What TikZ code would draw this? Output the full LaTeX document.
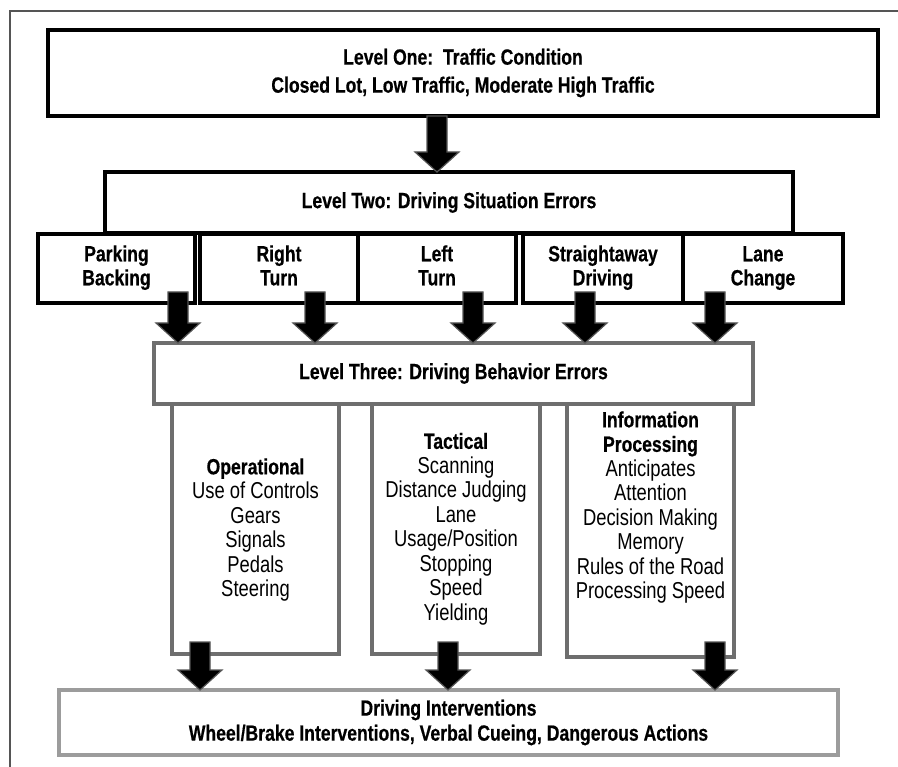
\documentclass[tikz,border=0pt]{standalone}
\usepackage{fontspec}
\setmainfont{Liberation Sans}[FakeStretch=0.8, BoldFeatures={FakeBold=0.5}]
\usetikzlibrary{calc}
\definecolor{boxgray}{HTML}{6E6E6E}
\definecolor{intgray}{HTML}{9C9C9C}
\definecolor{arrowgray}{HTML}{555555}
\tikzset{
	blackbox/.style={draw=black, line width=4.5pt, fill=white, inner sep=0pt, outer sep=0pt, align=center, font=\bfseries\fontsize{22}{24}\selectfont},
	graybox/.style={blackbox, draw=boxgray},
	colbox/.style={draw=boxgray, line width=4pt, fill=white, inner sep=0pt, outer sep=0pt},
	coltext/.style={align=center, inner sep=0pt, font=\fontsize{23}{24.5}\selectfont},
	fatarrow/.style={fill=black, draw=arrowgray, line width=1.2pt, line join=miter},
}
\newcommand{\hd}[1]{{\fontsize{22}{24.5}\selectfont\bfseries #1}}
\newcommand{\fatarrow}[4]{%
	\filldraw[fatarrow] let \p1=(#2.south), \p2=(#3.north) in
		(#1pt-10pt,\y1+#4pt) -- (#1pt+10pt,\y1+#4pt) -- (#1pt+10pt,\y2+20pt) -- (#1pt+22pt,\y2+20pt)
		-- (#1pt,\y2) -- (#1pt-22pt,\y2+20pt) -- (#1pt-10pt,\y2+20pt) -- cycle;}

\begin{document}
\begin{tikzpicture}[x=1pt, y=-1pt]
	\useasboundingbox (0,0) rectangle (898,767);
	\draw[arrowgray, line width=1.5pt] (10,767) -- (10,11) -- (898,11);

	\node[blackbox, minimum width=830, minimum height=86, font=\bfseries\fontsize{22}{28}\selectfont] (lvone) at (463,73)
		{Level One:\ \ Traffic Condition\\Closed Lot, Low Traffic, Moderate High Traffic};

	\node[blackbox, minimum width=688, minimum height=61] (lvtwo) at (449,202.5) {Level Two: Driving Situation Errors};
	\node[blackbox, minimum width=157, minimum height=69] (park) at (116.5,268.5) {\strut Parking\\Backing\strut};
	\node[blackbox, minimum width=158, minimum height=69] (rturn) at (279,268.5) {\strut Right\\Turn\strut};
	\node[blackbox, minimum width=158, minimum height=69] (lturn) at (437,268.5) {\strut Left\\Turn\strut};
	\node[blackbox, minimum width=160, minimum height=69] (straight) at (603,268.5) {\strut Straightaway\\Driving\strut};
	\node[blackbox, minimum width=160, minimum height=69] (lane) at (763,268.5) {\strut Lane\\Change\strut};

	\node[colbox, minimum width=167, minimum height=250] (oper) at (255.5,529) {};
	\node[colbox, minimum width=168, minimum height=250] (tact) at (456,529) {};
	\node[colbox, minimum width=167, minimum height=253] (info) at (650.5,530.5) {};
	\node[graybox, minimum width=599, minimum height=61] (lvthree) at (453.5,373.5) {Level Three: Driving Behavior Errors};

	\node[coltext] (opertxt) at (255.5,530)
		{\hd{Operational}\\Use of Controls\\Gears\\Signals\\Pedals\\Steering};
	\node[coltext] (tacttxt) at (456,529)
		{\hd{Tactical}\\Scanning\\Distance Judging\\Lane\\Usage/Position\\Stopping\\Speed\\Yielding};
	\node[coltext] (infotxt) at (650.5,507.5)
		{\hd{Information}\\\hd{Processing}\\Anticipates\\Attention\\Decision Making\\Memory\\Rules of the Road\\Processing Speed};

	\node[blackbox, draw=intgray, minimum width=779, minimum height=65, font=\bfseries\fontsize{22}{25}\selectfont] (interv) at (448.5,722.5)
		{Driving Interventions\\Wheel/Brake Interventions, Verbal Cueing, Dangerous Actions};

	\fatarrow{437}{lvone}{lvtwo}{0}
	\fatarrow{178}{park}{lvthree}{11}
	\fatarrow{315}{rturn}{lvthree}{11}
	\fatarrow{473}{lturn}{lvthree}{11}
	\fatarrow{585}{straight}{lvthree}{11}
	\fatarrow{715}{lane}{lvthree}{11}
	\fatarrow{200}{oper}{interv}{12}
	\fatarrow{448}{tact}{interv}{12}
	\fatarrow{715}{info}{interv}{15}
\end{tikzpicture}
\end{document}
